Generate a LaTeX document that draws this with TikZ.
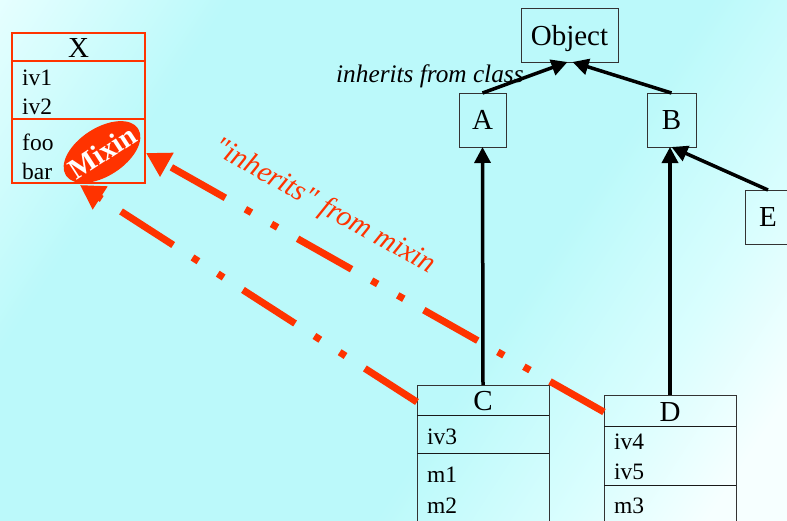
\documentclass[tikz,border=0pt]{standalone}
\usepackage{fontspec}
\setmainfont{Liberation Serif}
\newfontfamily\plainserif{Liberation Serif}
\usetikzlibrary{arrows.meta,shapes.geometric,calc}
\definecolor{mred}{HTML}{FF3300}
\definecolor{bgL}{HTML}{E8FFFF}
\definecolor{bgC}{HTML}{BBF9FA}
\definecolor{bgM}{HTML}{DAFEFE}
\definecolor{bgW}{HTML}{F6FFFF}
\pgfdeclarehorizontalshading{bgsh}{100bp}{color(0bp)=(bgL); color(21bp)=(bgC); color(63bp)=(bgC); color(80bp)=(bgM); color(92bp)=(bgW); color(100bp)=(bgW)}
\tikzset{
  box/.style={draw=black!80, line width=0.8pt, inner sep=0pt, outer sep=0pt},
  xbox/.style={draw=mred, line width=1.3pt, inner sep=0pt, outer sep=0pt},
  ttl/.style={font=\fontsize{29}{30}\selectfont, text depth=0pt},
  attr/.style={font=\fontsize{23.5}{25}\selectfont, anchor=west, inner sep=0pt},
  divline/.style={draw=black!90, line width=0.8pt},
  xdivline/.style={draw=mred, line width=1.3pt},
  inh/.style={line width=3.5pt, -{Triangle[length=16pt,width=16pt]}},
  mixarrow/.style={mred, line width=7pt, dash pattern=on 62pt off 23pt on 7pt off 23pt on 7pt off 23pt, -{Triangle[length=24pt,width=26pt]}},
}
\begin{document}
\begin{tikzpicture}[x=1pt,y=-1pt]
\useasboundingbox (0,0) rectangle (787,520);
% background gradient
\begin{scope}
  \clip (0,0) rectangle (787,520);
  \begin{scope}[shift={(393.5,260)}, rotate=-33]
    \node[inner sep=0pt, outer sep=0pt, transform shape, scale=9.6] (bg) at (0,0) {\pgfuseshading{bgsh}};
  \end{scope}
\end{scope}

% class hierarchy boxes
\node[box, ttl, minimum width=97pt, minimum height=54pt] (Object) at (569.5,35) {Object};
\node[box, ttl, minimum width=47pt, minimum height=54pt] (A) at (482.5,120) {A};
\node[box, ttl, minimum width=49pt, minimum height=54pt] (B) at (671.5,120) {B};
\node[box, ttl, minimum width=46pt, minimum height=54pt] (E) at (768,217) {E};

% C box
\node[box, minimum width=132pt, minimum height=155pt] (C) at (483,462.5) {};
\node[ttl, inner sep=0pt] (Ct) at (483,401) {C};
\draw[divline] (417,415) -- (549,415);
\draw[divline] (417,453) -- (549,453);
\node[attr] (Ca1) at (427,437) {iv3};
\node[attr] (Cm1) at (427,475) {m1};
\node[attr] (Cm2) at (427,506) {m2};

% D box
\node[box, minimum width=132pt, minimum height=155pt] (D) at (670,472.5) {};
\node[ttl, inner sep=0pt] (Dt) at (670,412) {D};
\draw[divline] (604,426) -- (736,426);
\draw[divline] (604,485) -- (736,485);
\node[attr] (Da1) at (614,442) {iv4};
\node[attr] (Da2) at (614,472) {iv5};
\node[attr] (Dm1) at (614,506) {m3};

% X box
\node[xbox, minimum width=133pt, minimum height=150pt] (X) at (78.5,108) {};
\node[ttl, inner sep=0pt] (Xt) at (78.5,48) {X};
\draw[xdivline] (12,61) -- (145,61);
\draw[xdivline] (12,119) -- (145,119);
\node[attr] (Xa1) at (22,78) {iv1};
\node[attr] (Xa2) at (22,107) {iv2};
\node[attr] (Xm1) at (22,142) {foo};
\node[attr] (Xm2) at (22,171) {bar};
\node[ellipse, fill=mred, minimum width=86pt, minimum height=48pt, inner sep=0pt, rotate=33] (mixin) at (102,152) {};
\node[text=white, font=\bfseries\fontsize{29}{29}\selectfont, rotate=33, inner sep=0pt] (mixintxt) at (mixin) {Mixin};

% class inheritance arrows
\draw[inh] (A.north) -- ([xshift=-2pt]Object.south);
\draw[inh] (B.north) -- ([xshift=3pt]Object.south);
\draw[inh] (E.north) -- (B.south);
\draw[inh] (C.north) -- (A.south);
\draw[inh] (D.north) -- (D.north |- B.south);
\node[anchor=base west, font=\itshape\fontsize{25.3}{25}\selectfont, inner sep=0pt] (clslbl) at (336,82) {inherits from class};

% mixin arrows
\coordinate (t1) at (80,185);
\coordinate (t2) at (146,153);
\draw[mixarrow] ([yshift=-17pt]C.north west) -- (t1);
\draw[mixarrow] ([yshift=-17pt]D.north west) -- (t2);
\node[text=mred, font=\plainserif\itshape\fontsize{29.5}{29}\selectfont, rotate=-29, inner sep=0pt] (mixlbl) at (324,207) {"inherits" from mixin};
\end{tikzpicture}
\end{document}
